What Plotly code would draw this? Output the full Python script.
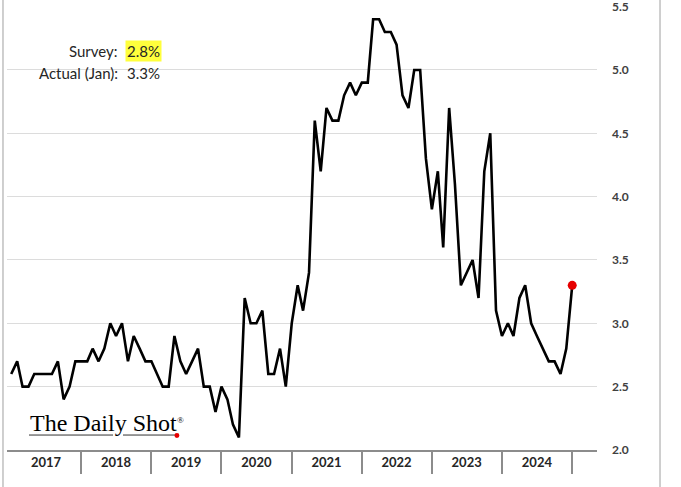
import pandas as pd
import plotly.graph_objects as go

# Monthly readings, Jan 2017 .. Jan 2025 (percent)
months = pd.date_range("2017-01-01", "2025-01-01", freq="MS")
expectations = [
    2.6, 2.7, 2.5, 2.5, 2.6, 2.6, 2.6, 2.6, 2.7, 2.4, 2.5, 2.7,  # 2017
    2.7, 2.7, 2.8, 2.7, 2.8, 3.0, 2.9, 3.0, 2.7, 2.9, 2.8, 2.7,  # 2018
    2.7, 2.6, 2.5, 2.5, 2.9, 2.7, 2.6, 2.7, 2.8, 2.5, 2.5, 2.3,  # 2019
    2.5, 2.4, 2.2, 2.1, 3.2, 3.0, 3.0, 3.1, 2.6, 2.6, 2.8, 2.5,  # 2020
    3.0, 3.3, 3.1, 3.4, 4.6, 4.2, 4.7, 4.6, 4.6, 4.8, 4.9, 4.8,  # 2021
    4.9, 4.9, 5.4, 5.4, 5.3, 5.3, 5.2, 4.8, 4.7, 5.0, 5.0, 4.3,  # 2022
    3.9, 4.2, 3.6, 4.7, 4.1, 3.3, 3.4, 3.5, 3.2, 4.2, 4.5, 3.1,  # 2023
    2.9, 3.0, 2.9, 3.2, 3.3, 3.0, 2.9, 2.8, 2.7, 2.7, 2.6, 2.8,  # 2024
    3.3,                                                         # 2025
]
years = ["2017", "2018", "2019", "2020", "2021", "2022", "2023", "2024"]
year_bounds = ["2018", "2019", "2020", "2021", "2022", "2023", "2024", "2025"]
survey = "2.8%"
actual = "3.3%"

axis_grey = "#8c8c8c"
text_col = "#262626"

fig = go.Figure()
fig.add_trace(go.Scatter(x=months, y=expectations, mode="lines",
                         line=dict(color="black", width=2.6),
                         hoverinfo="skip", showlegend=False))
# latest print highlighted in red
fig.add_trace(go.Scatter(x=months[-1:], y=expectations[-1:], mode="markers",
                         marker=dict(color="#e60000", size=9),
                         hoverinfo="skip", showlegend=False))

fig.update_xaxes(
    range=["2016-12-10", "2025-05-10"],
    automargin=False,
    tickmode="array",
    tickvals=[y + "-07-01" for y in years],
    ticktext=years,
    ticks="",
    showgrid=False,
    showline=True, linecolor=axis_grey, linewidth=1.5,
    tickfont=dict(family="Lato", size=13, color=text_col, weight="bold"),
    minor=dict(tickmode="array", tickvals=[y + "-01-01" for y in year_bounds],
               ticks="outside", ticklen=22, tickwidth=1.5,
               tickcolor=axis_grey, showgrid=False),
)
fig.update_yaxes(
    side="right",
    range=[2.0, 5.505],
    automargin=False,
    tickmode="array",
    tickvals=[2.0, 2.5, 3.0, 3.5, 4.0, 4.5, 5.0, 5.5],
    tickformat=".1f",
    showgrid=True, gridcolor="#dcdcdc", gridwidth=1,
    zeroline=False, showline=False,
    ticks="", ticklabelstandoff=14, ticklabeloverflow="allow",
    tickfont=dict(family="Lato", size=12, color="#404040", weight="bold"),
)

ann_font = dict(family="Lato", size=15, color=text_col)
annotations = [
    dict(text="Survey:", x=0.1915, y=0.899, xanchor="right"),
    dict(text=survey, x=0.2, y=0.899, xanchor="left", bgcolor="#ffff3c", borderpad=1),
    dict(text="Actual (Jan):", x=0.1915, y=0.849, xanchor="right"),
    dict(text=actual, x=0.2, y=0.849, xanchor="left"),
]
for a in annotations:
    fig.add_annotation(xref="paper", yref="paper", yanchor="middle",
                       showarrow=False, font=ann_font, **a)

# logo
fig.add_annotation(xref="paper", yref="paper", x=0.035, y=0.06,
                   xanchor="left", yanchor="middle", showarrow=False,
                   text="The Daily Shot",
                   font=dict(family="Liberation Serif", size=24, color="#000000"))
fig.add_annotation(xref="paper", yref="paper", x=0.2935, y=0.068,
                   xanchor="center", yanchor="middle", showarrow=False,
                   text="®",
                   font=dict(family="Liberation Serif", size=9, color="#000000"))
fig.add_shape(type="line", xref="paper", yref="paper",
              x0=0.0373, x1=0.1797, y0=0.0337, y1=0.0337,
              line=dict(color="#333333", width=1))
fig.add_shape(type="line", xref="paper", yref="paper",
              x0=0.1966, x1=0.2847, y0=0.0337, y1=0.0337,
              line=dict(color="#333333", width=1))
fig.add_shape(type="circle", xref="paper", yref="paper",
              x0=0.2838, x1=0.2922, y0=0.027, y1=0.0382,
              fillcolor="#e60000", line=dict(width=0))

# frame lines at the picture edges
for xp in (-0.0068, 1.1068):
    fig.add_shape(type="line", xref="paper", yref="paper",
                  x0=xp, x1=xp, y0=-0.2, y1=1.2,
                  line=dict(color="#bfbfbf", width=1.5))

fig.update_layout(
    width=681, height=487,
    margin=dict(l=7, r=84, t=6, b=37),
    plot_bgcolor="white", paper_bgcolor="white",
)

# drop the browser's default 8px body margin so the figure sits at the corner
fig.write_html("out.html", config={"displayModeBar": False},
               post_script="document.body.style.margin='0';")
